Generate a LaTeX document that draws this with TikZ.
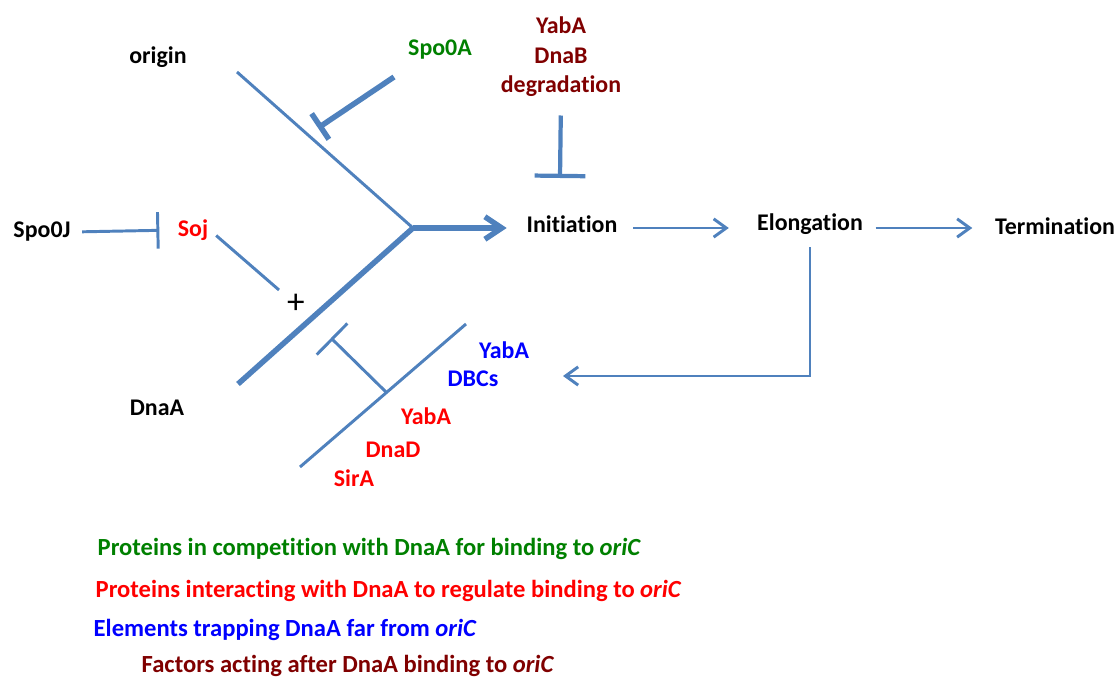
\documentclass[tikz,border=0pt]{standalone}
\usepackage{fontspec}
\setmainfont{Carlito}[Ligatures=NoCommon]
\usetikzlibrary{arrows.meta,positioning}

\definecolor{linkblue}{RGB}{79,129,189}
\definecolor{compgreen}{RGB}{0,128,0}
\definecolor{interred}{RGB}{255,0,0}
\definecolor{trapblue}{RGB}{0,0,255}
\definecolor{afterred}{RGB}{128,0,0}

\tikzset{
  lbl/.style={font=\bfseries\fontsize{17}{21}\selectfont, inner sep=1pt},
  legend/.style={font=\bfseries\fontsize{17.5}{21}\selectfont, inner sep=1pt, anchor=west},
  thinln/.style={draw=linkblue, line width=2.1pt},
  thickln/.style={draw=linkblue, line width=3.9pt},
  act/.style={-{Straight Barb[length=9pt,width=13pt]}},
  bigact/.style={-{Straight Barb[length=12pt,width=16pt]}},
  inhib/.style={-{Bar[width=#1]}},
}

\begin{document}
\begin{tikzpicture}[x=0.025cm,y=-0.025cm]
	\useasboundingbox (0,0) rectangle (1120,682);
	% labels
	\node[lbl] (origin) at (158,57) {origin};
	\node[lbl, text=compgreen] (spoa) at (440,50) {Spo0A};
	\node[lbl, text=afterred, align=center] (deg) at (561,57) {YabA\\DnaB\\degradation};
	\node[lbl] (spoj) at (42,232) {Spo0J};
	\node[lbl, text=interred] (soj) at (193,230) {Soj};
	\node[font=\fontsize{25}{25}\selectfont, inner sep=0pt] (plus) at (296,304) {+};
	\node[lbl] (dnaa) at (157,408) {DnaA};
	\node[lbl] (init) at (572,224) {Initiation};
	\node[lbl] (elong) at (810,224) {Elongation};
	\node[lbl] (term) at (1055,226) {Termination};
	\node[lbl, text=trapblue] (yabtrap) at (504,350) {YabA};
	\node[lbl, text=trapblue] (dbcs) at (473,379) {DBCs};
	\node[lbl, text=interred] (yabint) at (426,416) {YabA};
	\node[lbl, text=interred] (dnad) at (393,450) {DnaD};
	\node[lbl, text=interred] (sira) at (354,478) {SirA};
	% legend
	\node[legend, text=compgreen] (leggreen) at (96,549) {Proteins in competition with DnaA for binding to \textit{oriC}};
	\node[legend, text=interred] (legred) at (94,591) {Proteins interacting with DnaA to regulate binding to \textit{oriC}};
	\node[legend, text=trapblue] (legblue) at (92,630) {Elements trapping DnaA far from \textit{oriC}};
	\node[legend, text=afterred] (legdark) at (140,666) {Factors acting after DnaA binding to \textit{oriC}};

	% points of the fork
	\coordinate (fork) at (413,228);
	\coordinate (oritop) at (237,72);
	\coordinate (dnaabot) at (238,384);
	\coordinate (spoatail) at (394,77);
	\coordinate (spoahead) at (318,128);
	\coordinate (sojtip) at (279,290);
	\coordinate (traplow) at (300,467);
	\coordinate (traphigh) at (466,324);
	\coordinate (trapfoot) at (386,392);
	\coordinate (traphead) at (331,338);
	\coordinate (degbar) at (560,178);
	\coordinate (fbhead) at (563,376);
	\coordinate (mainrow) at (0,228);

	% connectors
	\draw[thinln] (oritop) -- (fork);
	\draw[thickln] (dnaabot) -- (fork);
	\draw[thickln, bigact, shorten >=13pt] (fork) -- (fork -| init.west);
	\draw[thickln, inhib=22pt] (spoatail) -- (spoahead);
	\draw[thinln, inhib=26pt, shorten <=7pt, shorten >=12pt] (spoj.east) -- (soj.west);
	\draw[thinln, shorten <=6pt] (soj.east) -- (sojtip);
	\draw[thinln] (traplow) -- (traphigh);
	\draw[thinln, inhib=31pt] (trapfoot) -- (traphead);
	\draw[thinln, line width=3pt, inhib=36pt, shorten <=12pt] (deg.south) -- (degbar);
	\draw[thinln, act, shorten <=10pt, shorten >=19pt] (init.east |- mainrow) -- (elong.west |- mainrow);
	\draw[thinln, act, shorten <=8pt, shorten >=15pt] (elong.east |- mainrow) -- (term.west |- mainrow);
	\draw[thinln, act] ([yshift=-8pt]elong.south) |- (fbhead);
\end{tikzpicture}
\end{document}
